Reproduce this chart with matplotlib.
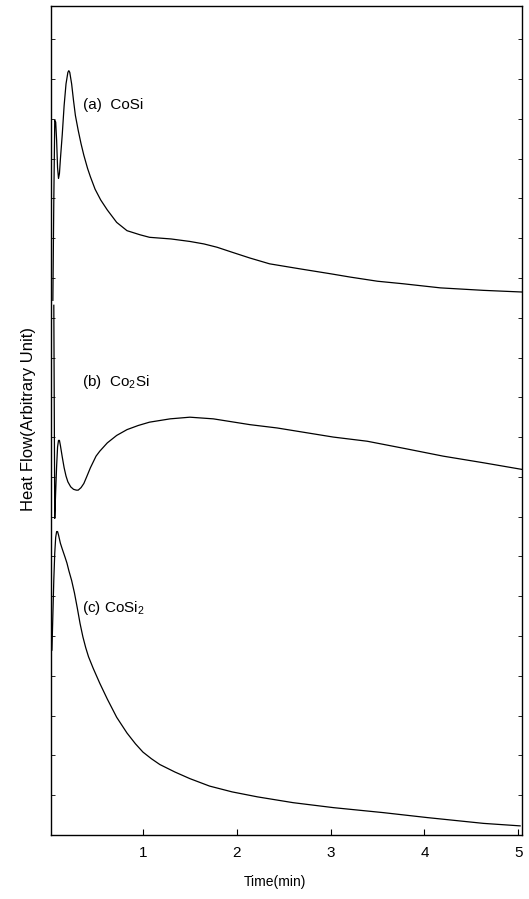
import numpy as np
import matplotlib
matplotlib.use("Agg")
import matplotlib.pyplot as plt

plt.rcParams['font.family'] = ['Liberation Sans', 'DejaVu Sans']

# heat flow traces, time in min, signal in arbitrary units (0-100 full scale)
t_a = [0.04, 0.05, 0.06, 0.07, 0.08, 0.09, 0.10, 0.11, 0.12, 0.14, 0.16, 0.18,
       0.20, 0.21, 0.22, 0.24, 0.26, 0.28, 0.31, 0.34, 0.37, 0.41, 0.44, 0.49,
       0.55, 0.62, 0.72, 0.83, 0.97, 1.07, 1.30, 1.50, 1.65, 1.79, 1.95, 2.14,
       2.35, 2.67, 3.00, 3.21, 3.50, 3.77, 4.17, 4.63, 5.04]
hf_a = [64.5, 76.6, 86.2, 86.0, 83.8, 80.5, 79.2, 79.8, 81.5, 84.5, 88.0, 90.6,
        92.0, 92.2, 92.0, 90.6, 88.6, 86.8, 85.0, 83.4, 82.0, 80.4, 79.4, 77.9,
        76.6, 75.4, 73.9, 72.9, 72.4, 72.1, 71.9, 71.6, 71.3, 70.9, 70.3, 69.6,
        68.9, 68.3, 67.7, 67.3, 66.8, 66.5, 66.0, 65.7, 65.5]

t_b = [0.05, 0.06, 0.07, 0.08, 0.09, 0.10, 0.11, 0.12, 0.14, 0.16, 0.18, 0.20,
       0.23, 0.26, 0.29, 0.31, 0.34, 0.37, 0.40, 0.44, 0.47, 0.50, 0.54, 0.58,
       0.62, 0.72, 0.83, 0.95, 1.07, 1.29, 1.50, 1.75, 2.14, 2.43, 3.03, 3.39,
       3.80, 4.20, 4.63, 5.04]
hf_b = [63.9, 38.2, 41.5, 44.5, 46.8, 47.6, 47.6, 47.0, 45.6, 44.3, 43.3, 42.6,
        42.0, 41.7, 41.6, 41.6, 41.9, 42.4, 43.2, 44.3, 45.0, 45.7, 46.3, 46.8,
        47.3, 48.2, 48.9, 49.4, 49.8, 50.2, 50.4, 50.2, 49.5, 49.1, 48.0, 47.5,
        46.6, 45.7, 44.9, 44.1]

t_c = [0.03, 0.05, 0.06, 0.07, 0.08, 0.09, 0.10, 0.12, 0.14, 0.17, 0.19, 0.21,
       0.24, 0.27, 0.30, 0.33, 0.36, 0.39, 0.42, 0.47, 0.54, 0.62, 0.72,
       0.83, 0.92, 1.00, 1.09, 1.18, 1.34, 1.50, 1.71, 1.95, 2.22, 2.60, 3.03,
       3.56, 4.03, 4.63, 5.02]
hf_c = [22.3, 30.8, 34.0, 35.9, 36.6, 36.6, 36.2, 35.2, 34.5, 33.5, 32.8, 31.9,
        30.7, 29.2, 27.4, 25.5, 23.9, 22.6, 21.5, 20.1, 18.3, 16.4, 14.2,
        12.3, 11.0, 10.0, 9.2, 8.5, 7.6, 6.8, 5.9, 5.2, 4.6, 3.9, 3.3,
        2.7, 2.1, 1.4, 1.1]

labels = ['(a)  CoSi', r'(b)  Co$\mathregular{_2}$Si', r'(c) CoSi$\mathregular{_2}$']
label_t = [0.36, 0.35, 0.35]
label_hf = [88.1, 54.6, 27.4]

xticks = [1, 2, 3, 4, 5]

fig = plt.figure(figsize=(5.29, 8.99), dpi=100)
ax = fig.add_axes([0.0964, 0.0712, 0.8904, 0.9221])

for t, hf in [(t_a, hf_a), (t_b, hf_b), (t_c, hf_c)]:
    ax.plot(t, hf, color='black', lw=0.9, solid_joinstyle='round')

for s, x, y in zip(labels, label_t, label_hf):
    ax.text(x, y, s, fontsize=11, ha='left', va='center')

ax.set_xlim(0.02, 5.04)
ax.set_ylim(0, 100)
ax.set_xticks(xticks)
ax.set_xticklabels([str(v) for v in xticks], fontsize=11)
ax.set_yticks(np.arange(0, 100, 4.8))
ax.set_yticklabels([])
ax.tick_params(axis='x', direction='in', length=4, width=0.8, pad=8)
ax.tick_params(axis='y', direction='in', length=3, width=0.6, right=True)
for sp in ax.spines.values():
    sp.set_linewidth(1.0)

ax.set_xlabel('Time(min)', fontsize=10)
ax.xaxis.set_label_coords(0.475, -0.048)
ax.set_ylabel('Heat Flow(Arbitrary Unit)', fontsize=12)
ax.yaxis.set_label_coords(-0.032, 0.502)

fig.savefig('out.png', dpi=100)
